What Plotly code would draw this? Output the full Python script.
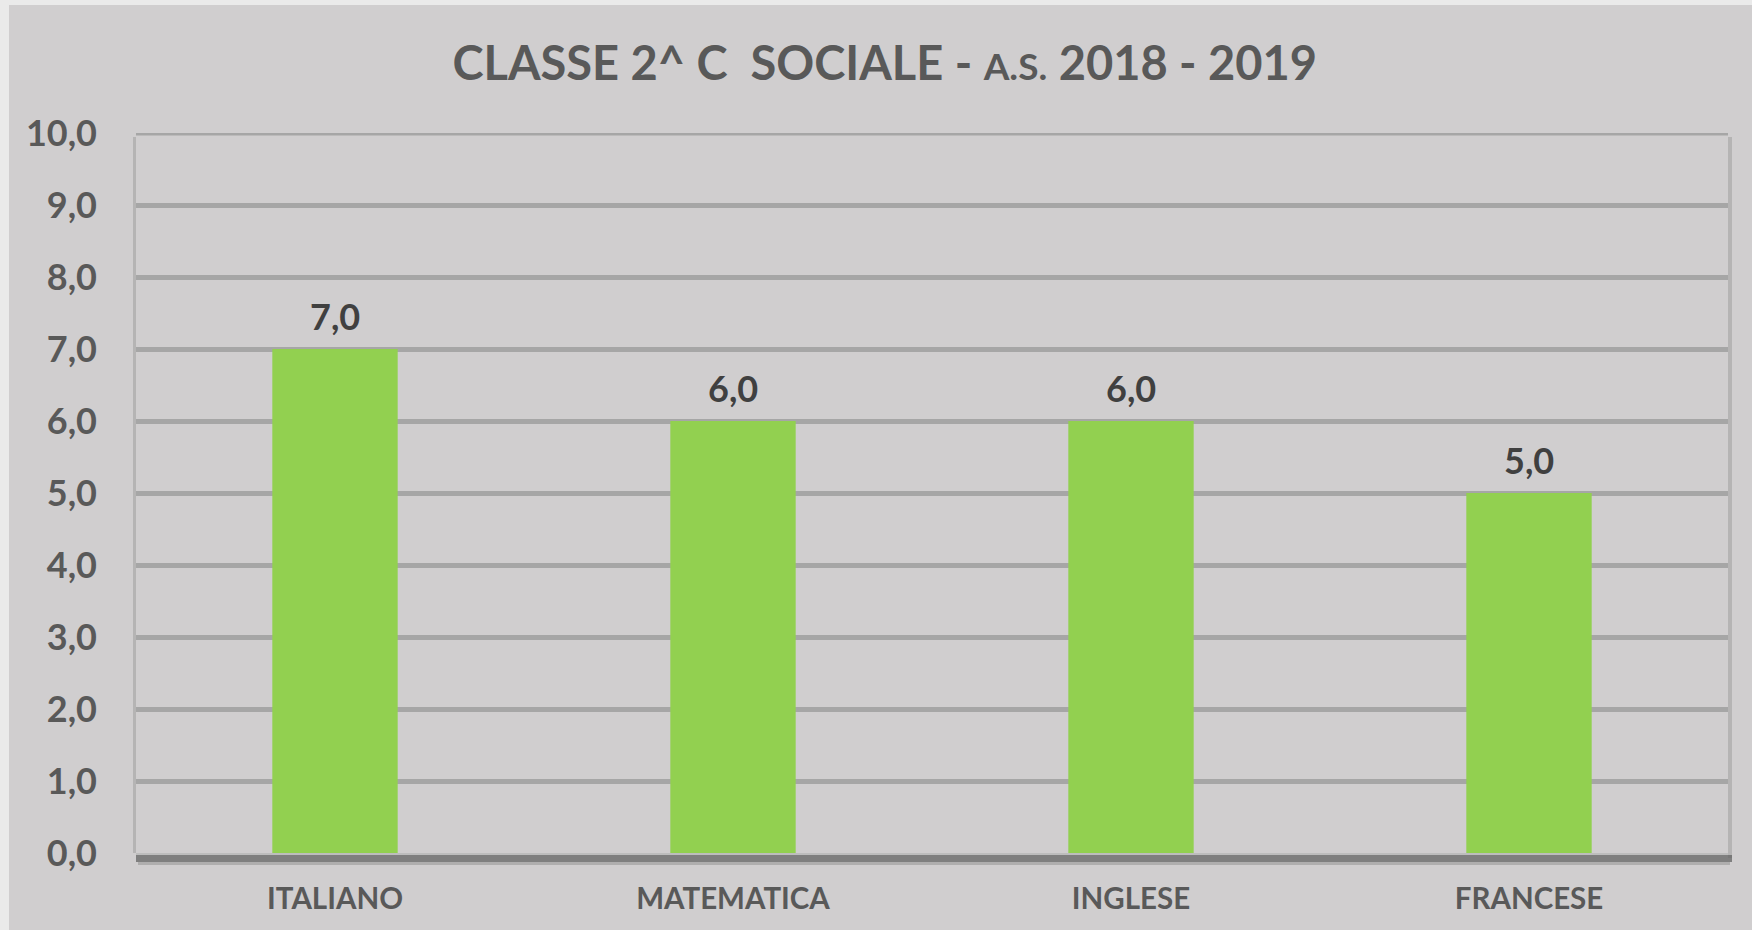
import plotly.graph_objects as go

categories = ["ITALIANO", "MATEMATICA", "INGLESE", "FRANCESE"]
values = [7.0, 6.0, 6.0, 5.0]
tick_vals = [0, 1, 2, 3, 4, 5, 6, 7, 8, 9, 10]
tick_text = [f"{v:.1f}".replace(".", ",") for v in tick_vals]
value_labels = [f"{v:.1f}".replace(".", ",") for v in values]

BG = "#D0CECF"
FONT = "Lato"
GREY_TXT = "#595959"
GRID = "#A6A6A6"

fig = go.Figure()
fig.add_trace(go.Bar(
    x=categories, y=values,
    marker=dict(color="#92D050", line=dict(width=0)),
    width=0.315,
    hoverinfo="skip",
))

for c, v, t in zip(categories, values, value_labels):
    fig.add_annotation(x=c, y=v, text=t, showarrow=False, yanchor="bottom",
                       yshift=9, font=dict(family=FONT, size=36, color="#404040", weight="bold"))

W, H = 1752, 930
ml, mr, mt, mb = 136, 24, 133, 77
pw, ph = W - ml - mr, H - mt - mb

def px_x(p):
    return (p - ml) / pw

def px_y(p):
    return (H - mb - p) / ph

shapes = [
    # outer light frame
    dict(type="rect", xref="paper", yref="paper", x0=px_x(0), x1=px_x(9), y0=px_y(H), y1=px_y(0),
         fillcolor="#EAEAEA", line=dict(width=0), layer="below"),
    dict(type="rect", xref="paper", yref="paper", x0=px_x(0), x1=px_x(W), y0=px_y(5), y1=px_y(0),
         fillcolor="#EAEAEA", line=dict(width=0), layer="below"),
    # left shadow
    dict(type="rect", xref="paper", yref="paper", x0=px_x(133), x1=px_x(136), y0=0, y1=px_y(137),
         fillcolor="rgba(120,120,120,0.3)", line=dict(width=0), layer="below"),
    # right shadow
    dict(type="rect", xref="paper", yref="paper", x0=1, x1=px_x(1732), y0=px_y(858), y1=px_y(137),
         fillcolor="rgba(120,120,120,0.3)", line=dict(width=0), layer="below"),
    # bottom shadow
    dict(type="rect", xref="paper", yref="paper", x0=px_x(136), x1=px_x(1732), y0=px_y(862), y1=px_y(855),
         fillcolor="rgba(100,100,100,0.75)", line=dict(width=0), layer="below"),
    dict(type="rect", xref="paper", yref="paper", x0=px_x(138), x1=px_x(1730), y0=px_y(865), y1=px_y(862),
         fillcolor="rgba(100,100,100,0.3)", line=dict(width=0), layer="below"),
    # top gridline (range edge)
    dict(type="line", xref="paper", yref="y", x0=0, x1=1, y0=tick_vals[-1], y1=tick_vals[-1],
         line=dict(color=GRID, width=5), layer="below"),
    # axis line
    dict(type="line", xref="paper", yref="paper", x0=0, x1=1, y0=px_y(854), y1=px_y(854),
         line=dict(color="#BDBDBD", width=2)),
]

title_txt = ("CLASSE 2^ C\u00a0 SOCIALE - <span style='font-size:37px'>A.S.</span> 2018 - 2019")

fig.update_layout(
    width=W, height=H,
    margin=dict(l=ml, r=mr, t=mt, b=mb, pad=0, autoexpand=False),
    paper_bgcolor=BG, plot_bgcolor=BG,
    showlegend=False,
    title=dict(text=title_txt, x=0.505, xref="container", xanchor="center",
               y=1 - 64 / H, yref="container", yanchor="middle",
               font=dict(family=FONT, size=47, color=GREY_TXT, weight="bold")),
    xaxis=dict(showgrid=False, showline=False, zeroline=False,
               tickfont=dict(family=FONT, size=29.5, color=GREY_TXT, weight="bold"),
               ticks="outside", ticklen=0, ticklabelstandoff=20),
    yaxis=dict(range=[0, 10], tickvals=tick_vals, ticktext=tick_text,
               showgrid=True, gridcolor=GRID, gridwidth=5,
               zeroline=False, showline=False,
               tickfont=dict(family=FONT, size=36, color=GREY_TXT, weight="bold"),
               ticklabelstandoff=38),
    shapes=shapes,
)

fig.write_html("out.html", config={"displayModeBar": False},
               post_script="document.body.style.margin='0px';")
